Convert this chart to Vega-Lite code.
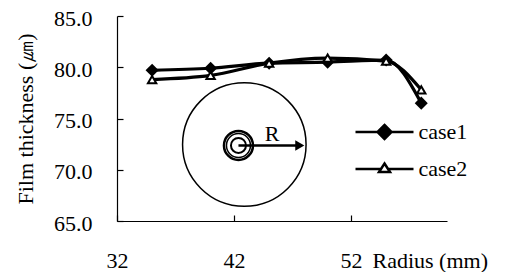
{
  "$schema": "https://vega.github.io/schema/vega-lite/v6.json",
  "width": 330,
  "height": 205,
  "autosize": {"type": "none"},
  "padding": {"left": 117, "top": 16, "right": 58, "bottom": 51},
  "background": "white",
  "config": {
    "view": {"stroke": null},
    "font": "Liberation Serif",
    "style": {"guide-label": {"font": "Liberation Serif"}, "guide-title": {"font": "Liberation Serif"}},
    "axis": {
      "grid": false,
      "domainColor": "black",
      "domainWidth": 1.2,
      "tickColor": "black",
      "tickWidth": 1.2,
      "labelColor": "black",
      "titleColor": "black",
      "labelFont": "Liberation Serif",
      "titleFont": "Liberation Serif",
      "labelFontSize": 22,
      "titleFontSize": 22,
      "titleFontWeight": "normal",
      "labelFlush": false,
      "labelOverlap": false
    }
  },
  "datasets": {
    "film": [
      {"radius": 35, "thickness": 79.7, "series": "case1"},
      {"radius": 40, "thickness": 79.9, "series": "case1"},
      {"radius": 45, "thickness": 80.4, "series": "case1"},
      {"radius": 50, "thickness": 80.5, "series": "case1"},
      {"radius": 55, "thickness": 80.7, "series": "case1"},
      {"radius": 58, "thickness": 76.5, "series": "case1"},
      {"radius": 35, "thickness": 78.8, "series": "case2"},
      {"radius": 40, "thickness": 79.2, "series": "case2"},
      {"radius": 45, "thickness": 80.4, "series": "case2"},
      {"radius": 50, "thickness": 80.9, "series": "case2"},
      {"radius": 55, "thickness": 80.6, "series": "case2"},
      {"radius": 58, "thickness": 77.8, "series": "case2"}
    ],
    "sketch": [
      {"part": "disc", "cx": 42.88, "cy": 72.46},
      {"part": "hub", "cx": 42.38, "cy": 72.37, "tip": 47.4, "head": 47.62, "label": "R", "lx": 45.25, "ly": 73.49}
    ]
  },
  "layer": [
    {
      "data": {"name": "film"},
      "mark": {"type": "line", "interpolate": "monotone", "strokeWidth": 3.2, "color": "black"},
      "encoding": {
        "x": {
          "field": "radius",
          "type": "quantitative",
          "scale": {"domain": [32, 60.2], "nice": false, "zero": false},
          "axis": {
            "values": [32, 42, 52],
            "tickSize": -6,
            "labelBaseline": "alphabetic",
            "labelPadding": 52,
            "labelFont": "Liberation Serif",
            "titleFont": "Liberation Serif",
            "title": "Radius (mm)",
            "titleAnchor": "start",
            "titleAlign": "left",
            "titleBaseline": "alphabetic",
            "titleX": 255,
            "titleY": 46
          }
        },
        "y": {
          "field": "thickness",
          "type": "quantitative",
          "scale": {"domain": [65, 85], "nice": false, "zero": false},
          "axis": {
            "values": [65, 70, 75, 80, 85],
            "format": ".1f",
            "tickSize": -6,
            "labelPadding": 31,
            "labelOffset": 2,
            "labelFont": "Liberation Serif",
            "titleFont": "Liberation Serif",
            "title": "Film thickness (㎛)",
            "titlePadding": 16
          }
        },
        "detail": {"field": "series", "type": "nominal"}
      }
    },
    {
      "data": {"name": "film"},
      "transform": [{"filter": "datum.series === 'case1'"}],
      "mark": {"type": "point", "shape": "diamond", "filled": true, "opacity": 1, "color": "black", "size": 170},
      "encoding": {
        "x": {"field": "radius", "type": "quantitative"},
        "y": {"field": "thickness", "type": "quantitative"}
      }
    },
    {
      "data": {"name": "film"},
      "transform": [{"filter": "datum.series === 'case2'"}],
      "mark": {"type": "point", "shape": "triangle-up", "filled": true, "opacity": 1, "fill": "white", "stroke": "black", "strokeWidth": 2, "size": 70},
      "encoding": {
        "x": {"field": "radius", "type": "quantitative"},
        "y": {"field": "thickness", "type": "quantitative"}
      }
    },
    {
      "data": {"name": "film"},
      "mark": {"type": "point", "filled": true, "opacity": 1, "size": 0, "strokeWidth": 2.5},
      "encoding": {
        "x": {"field": "radius", "type": "quantitative"},
        "y": {"field": "thickness", "type": "quantitative"},
        "shape": {
          "field": "series",
          "type": "nominal",
          "scale": {
            "domain": ["case1", "case2"],
            "range": [
              "M-2.9,0H2.9M0,-0.7L0.7,0L0,0.7L-0.7,0Z",
              "M-2.9,0H-0.36M0.36,0H2.9M0,-0.55L0.55,0.3L-0.55,0.3Z"
            ]
          },
          "legend": {
            "orient": "none", "legendX": 238, "legendY": 104.5, "title": null,
            "symbolSize": 400, "symbolStrokeWidth": 2.5,
            "symbolOffset": 18, "labelOffset": 22.5, "labelFont": "Liberation Serif",
            "labelFontSize": 22, "labelColor": "black", "rowPadding": 13, "padding": 0
          }
        },
        "fill": {
          "field": "series",
          "type": "nominal",
          "scale": {"domain": ["case1", "case2"], "range": ["black", "white"]},
          "legend": {
            "orient": "none", "legendX": 238, "legendY": 104.5, "title": null,
            "symbolSize": 400, "symbolStrokeWidth": 2.5,
            "symbolOffset": 18, "labelOffset": 22.5, "labelFont": "Liberation Serif",
            "labelFontSize": 22, "labelColor": "black", "rowPadding": 13, "padding": 0
          }
        },
        "stroke": {
          "field": "series",
          "type": "nominal",
          "scale": {"domain": ["case1", "case2"], "range": ["black", "black"]},
          "legend": {
            "orient": "none", "legendX": 238, "legendY": 104.5, "title": null,
            "symbolSize": 400, "symbolStrokeWidth": 2.5,
            "symbolOffset": 18, "labelOffset": 22.5, "labelFont": "Liberation Serif",
            "labelFontSize": 22, "labelColor": "black", "rowPadding": 13, "padding": 0
          }
        }
      }
    },
    {
      "data": {"name": "sketch"},
      "transform": [{"filter": "datum.part === 'disc'"}],
      "mark": {"type": "point", "shape": "circle", "filled": false, "opacity": 1, "stroke": "black", "strokeWidth": 1.5, "size": 15252},
      "encoding": {"x": {"field": "cx", "type": "quantitative"}, "y": {"field": "cy", "type": "quantitative"}}
    },
    {
      "data": {"name": "sketch"},
      "transform": [{"filter": "datum.part === 'hub'"}],
      "mark": {"type": "point", "shape": "circle", "filled": false, "opacity": 1, "stroke": "black", "strokeWidth": 2.5, "size": 841},
      "encoding": {"x": {"field": "cx", "type": "quantitative"}, "y": {"field": "cy", "type": "quantitative"}}
    },
    {
      "data": {"name": "sketch"},
      "transform": [{"filter": "datum.part === 'hub'"}],
      "mark": {"type": "point", "shape": "circle", "filled": false, "opacity": 1, "stroke": "black", "strokeWidth": 1.5, "size": 576},
      "encoding": {"x": {"field": "cx", "type": "quantitative"}, "y": {"field": "cy", "type": "quantitative"}}
    },
    {
      "data": {"name": "sketch"},
      "transform": [{"filter": "datum.part === 'hub'"}],
      "mark": {"type": "point", "shape": "circle", "filled": false, "opacity": 1, "stroke": "black", "strokeWidth": 2, "size": 225},
      "encoding": {"x": {"field": "cx", "type": "quantitative"}, "y": {"field": "cy", "type": "quantitative"}}
    },
    {
      "data": {"name": "sketch"},
      "transform": [{"filter": "datum.part === 'hub'"}],
      "mark": {"type": "rule", "color": "black", "strokeWidth": 2.5},
      "encoding": {
        "x": {"field": "cx", "type": "quantitative"},
        "x2": {"field": "tip"},
        "y": {"field": "cy", "type": "quantitative"}
      }
    },
    {
      "data": {"name": "sketch"},
      "transform": [{"filter": "datum.part === 'hub'"}],
      "mark": {"type": "point", "shape": "triangle-right", "filled": true, "opacity": 1, "color": "black", "size": 110},
      "encoding": {"x": {"field": "head", "type": "quantitative"}, "y": {"field": "cy", "type": "quantitative"}}
    },
    {
      "data": {"name": "sketch"},
      "transform": [{"filter": "datum.part === 'hub'"}],
      "mark": {"type": "text", "font": "Liberation Serif", "fontSize": 22, "color": "black", "align": "center", "baseline": "middle"},
      "encoding": {
        "x": {"field": "lx", "type": "quantitative"},
        "y": {"field": "ly", "type": "quantitative"},
        "text": {"field": "label"}
      }
    }
  ]
}
